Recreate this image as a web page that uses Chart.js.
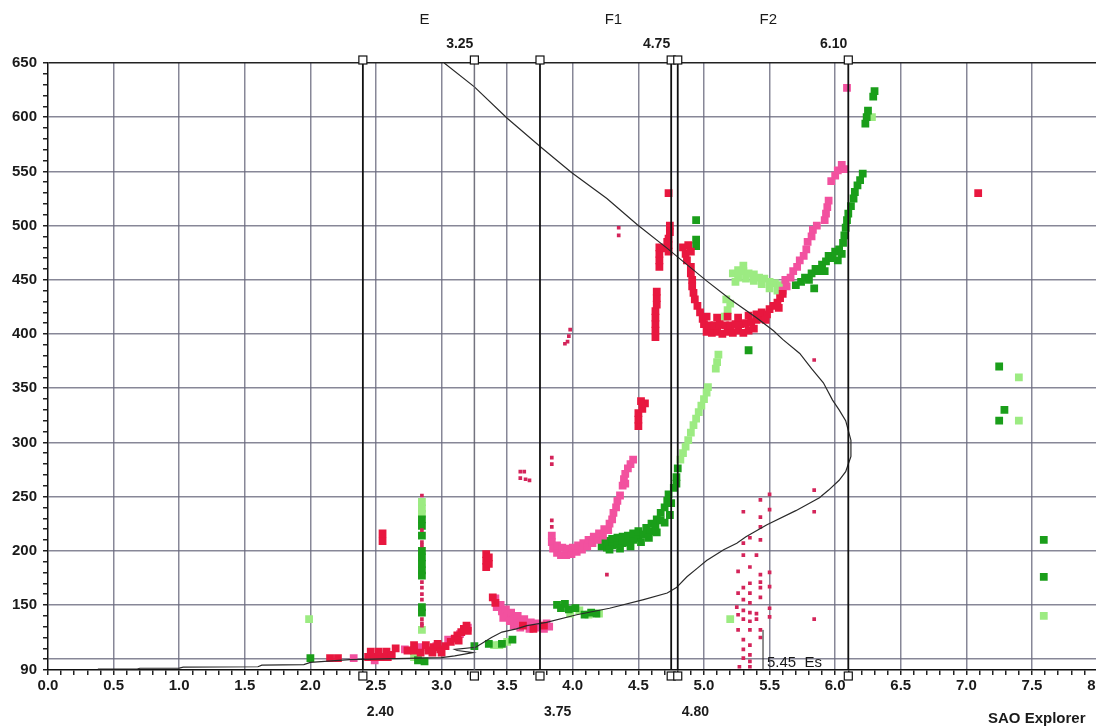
<!DOCTYPE html>
<html>
<head>
<meta charset="utf-8">
<title>Ionogram</title>
<script src="https://cdn.jsdelivr.net/npm/chart.js@4.4.1/dist/chart.umd.min.js"></script>
<style>
  html, body { margin: 0; padding: 0; background: #fff; overflow: hidden; }
  #wrap { position: relative; width: 1110px; height: 727px; }
</style>
</head>
<body>
<div id="wrap"><canvas id="iono" width="1110" height="727"></canvas></div>
<script>
// frequency (MHz), virtual height (km)
const oTrace = [
  [2.15,101],[2.21,101],
  [2.44,102],[2.49,102],[2.54,102],[2.59,102],[2.46,107],[2.52,107],[2.58,107],[2.62,104],[2.65,110],
  [2.74,108],[2.79,108],[2.79,113],[2.9,108],[2.94,111],[2.99,109],[2.97,114],[3.03,112],[2.88,113],
  [2.84,106],[2.93,106],[3.0,106],
  [3.07,116],[3.1,119],[3.12,122],[3.15,125],[3.17,128],[3.19,131],[3.2,126],[3.13,117],
  [2.55,209],[2.55,216],[3.34,185],[3.34,191],[3.34,197],[3.36,188],[3.36,194],
  [3.39,157],[3.41,152],[3.62,131],[3.7,128],[3.78,131],
  [4.5,315],[4.5,321],[4.5,327],[4.53,331],[4.55,336],[4.52,338],
  [4.63,397],[4.63,403],[4.63,409],[4.63,415],[4.63,421],[4.64,427],[4.64,433],[4.64,439],
  [4.66,462],[4.66,468],[4.66,474],[4.66,480],
  [4.73,476],[4.73,482],[4.73,488],[4.74,494],[4.74,500],[4.72,485],[4.7,479],[4.73,530],
  [4.84,480],[4.88,482],[4.86,474],[4.9,476],[4.87,468],[4.9,462],[4.9,456],[4.91,450],[4.91,444],
  [4.92,438],[4.93,432],[4.95,426],[4.97,420],[4.99,414],
  [5.02,402],[5.06,401],[5.1,402],[5.14,400],[5.18,402],[5.22,401],[5.26,403],[5.3,401],[5.34,403],[5.38,405],
  [5.0,409],[5.04,408],[5.08,408],[5.12,409],[5.16,408],[5.2,408],[5.24,409],[5.28,409],[5.32,410],[5.36,411],
  [5.02,416],[5.1,415],[5.18,416],[5.26,415],[5.34,417],
  [5.4,413],[5.44,414],[5.4,418],[5.44,420],[5.48,418],[5.5,423],[5.53,426],[5.56,429],[5.58,433],[5.6,437],
  [5.57,424],[5.47,413],
  [7.09,530]
];

const oTrace2 = [
  [2.33,101],[2.49,99],[2.72,109],[2.84,111],[2.96,112],[3.05,118],[3.14,123],[3.2,129],
  [3.41,156],[3.42,148],[3.45,150],[3.46,144],[3.49,146],[3.5,140],[3.53,143],[3.55,137],[3.58,140],
  [3.6,134],[3.63,137],[3.65,132],[3.68,134],[3.7,130],[3.73,133],[3.75,129],[3.78,128],[3.8,133],
  [3.82,130],[3.55,131],[3.6,129],[3.67,128],[3.47,138],[3.52,135],
  [3.84,214],[3.84,208],[3.85,202],[3.88,198],[3.88,205],[3.91,196],[3.92,203],[3.95,196],[3.96,202],
  [3.99,197],[4.0,203],[4.03,199],[4.04,205],[4.07,201],[4.08,207],[4.11,204],[4.12,210],[4.15,207],
  [4.16,213],[4.19,210],[4.2,216],[4.23,214],[4.24,220],[4.27,219],[4.28,225],[4.3,229],[4.31,235],
  [4.33,240],[4.34,246],[4.36,251],[4.38,260],[4.39,266],[4.4,271],[4.42,276],[4.44,280],[4.46,284],[4.4,262],
  [5.6,440],[5.63,444],[5.62,450],[5.66,452],[5.68,458],[5.71,462],[5.73,468],[5.76,472],[5.78,478],
  [5.79,485],[5.82,490],[5.83,496],[5.86,500],[5.92,505],[5.93,511],[5.94,517],[5.95,523],
  [5.97,541],[6.0,546],[6.02,551],[6.05,556],[6.07,552],[6.09,627]
];

const xTrace = [
  [2.0,101],[2.82,99],[2.87,98],
  [2.85,229],[2.85,223],[2.85,214],[2.85,200],[2.85,194],[2.85,188],[2.85,182],[2.85,177],[2.85,148],[2.85,143],
  [3.25,112],[3.36,114],[3.46,114],[3.54,118],
  [3.88,150],[3.91,147],[3.94,151],[3.97,146],[4.02,147],[4.09,141],[4.14,143],[4.18,142],
  [4.22,204],[4.22,210],[4.26,203],[4.26,209],[4.3,205],[4.3,211],[4.34,206],[4.34,212],[4.38,207],
  [4.38,213],[4.42,208],[4.42,214],[4.46,210],[4.46,216],[4.5,212],[4.5,218],[4.54,215],[4.56,221],
  [4.59,218],[4.6,225],[4.63,222],[4.64,229],[4.67,228],[4.67,235],[4.7,240],[4.72,246],[4.73,252],
  [4.75,244],[4.77,258],[4.79,268],[4.8,276],[4.79,262],
  [4.28,201],[4.36,202],[4.44,204],[4.52,208],[4.58,212],[4.64,217],[4.7,226],[4.74,233],
  [4.94,505],[4.94,487],[4.94,481],[5.34,385],
  [5.7,445],[5.74,448],[5.77,452],[5.8,450],[5.82,456],[5.85,460],[5.87,458],[5.9,464],[5.93,467],
  [5.95,472],[5.98,470],[6.0,476],[6.03,478],[6.05,474],[6.06,484],[6.07,491],[6.08,498],[6.09,505],
  [6.1,511],[6.12,518],[6.14,525],[6.15,531],[6.17,537],[6.19,542],[6.21,548],[6.23,594],[6.24,600],
  [6.25,606],[6.29,619],[6.3,624],[5.84,442],[5.92,458],[6.02,468],
  [7.25,370],[7.29,330],[7.25,320],[7.59,210],[7.59,176]
];

const xTrace2 = [
  [1.99,137],[2.79,102],[2.85,127],[2.85,245],[2.85,239],[2.85,234],
  [3.4,113],[3.44,113],[3.5,116],
  [3.98,142],[4.05,145],[4.12,141],[4.2,142],
  [4.82,284],[4.84,290],[4.86,296],[4.88,302],[4.9,309],[4.92,316],[4.94,322],[4.96,328],[4.98,334],
  [5.0,340],[5.02,346],[5.03,351],[5.09,368],[5.1,374],[5.11,381],[5.16,416],[5.18,422],[5.2,428],[5.17,432],
  [5.22,456],[5.26,459],[5.3,458],[5.34,456],[5.38,455],[5.42,452],[5.46,451],[5.5,448],[5.54,447],
  [5.58,445],[5.62,445],[5.26,452],[5.32,451],[5.38,449],[5.44,446],[5.5,442],[5.56,440],[5.3,463],[5.24,448],
  [6.28,600],[7.4,360],[7.4,320],[7.59,140],[5.2,137]
];

const echoDots = [
  [2.85,251],[2.85,219],[2.85,208],[2.85,205],[2.85,171],[2.85,166],[2.85,160],[2.85,155],[2.85,137],[2.85,133],[2.85,131],
  [3.6,273],[3.63,273],[3.6,267],[3.64,266],[3.67,265],
  [3.84,286],[3.84,280],[3.84,222],[3.84,228],
  [3.94,391],[3.96,393],[3.97,398],[3.98,404],
  [4.35,498],[4.35,491],[4.26,178],
  [5.84,376],[5.84,256],[5.84,236],[5.84,137],
  [5.3,236],[5.43,247],[5.5,252],[5.5,238],[5.43,231],[5.43,222],[5.43,210],[5.35,212],[5.3,207],
  [5.3,196],[5.4,196],[5.35,185],[5.5,180],[5.43,178],[5.43,171],[5.35,170],[5.26,181],[5.3,166],
  [5.26,161],[5.35,161],[5.43,166],[5.5,167],[5.43,157],[5.3,155],[5.35,152],[5.25,148],[5.3,145],
  [5.35,143],[5.4,142],[5.5,147],[5.5,139],[5.26,141],[5.3,137],[5.4,137],[5.35,135],[5.26,127],
  [5.35,127],[5.43,127],[5.43,120],[5.3,118],[5.35,113],[5.3,109],[5.35,104],[5.3,101],[5.27,93],
  [5.35,98],[5.35,93]
];

// true-height electron density profile
const profile = [
  [0.38,90.9],[0.68,90.9],[0.7,91.6],[1.0,91.8],[1.03,92.7],[1.6,93],[1.63,94.5],[1.95,95],[2.0,97],
  [2.3,99.5],[2.65,100.5],[3.0,101.5],[3.1,103],[3.24,106],[3.12,108],[3.1,109],[3.26,111],[3.3,114],
  [3.38,120],[3.46,125],[3.57,128],[3.65,131],[3.8,134],[4.03,141],[4.28,147],[4.54,155],[4.72,161],
  [4.79,166],[4.87,176],[4.95,184],[5.02,191],[5.15,201],[5.25,207],[5.32,213],[5.48,224],[5.7,237],
  [5.88,249],[5.95,256],[6.03,265],[6.08,273],[6.12,287],[6.12,302],[6.08,320],[6.03,330],[5.98,339],
  [5.91,355],[5.82,368],[5.73,382],[5.6,395],[5.53,403],[5.4,415],[5.2,432],[5.02,449],[4.72,479],
  [4.49,501],[4.26,525],[3.99,549],[3.76,572],[3.5,599],[3.25,628],[3.02,650]
];

// scaled markers
const markerFreqs = [2.40, 3.75, 4.75, 4.80, 6.10];
const greyMarker = 3.25;
const topMarkerLabels = [[3.25, '3.25'], [4.75, '4.75'], [6.10, '6.10']];
const bottomMarkerLabels = [[2.40, '2.40'], [3.75, '3.75'], [4.80, '4.80']];
const layerNames = [[2.87, 'E'], [4.31, 'F1'], [5.49, 'F2']];
const esFreq = 5.45;
const esTop = 127;

const xTickValues = [];
for (let i = 0; i <= 80; i++) xTickValues.push(i / 10);
const yTickValues = [];
for (let h = 90; h <= 650; h += 10) yTickValues.push(h);

const FONT = '"Liberation Sans", Arial, sans-serif';
const gridGrey = 'rgba(105,105,125,0.8)';

const toXY = arr => arr.map(p => ({ x: p[0], y: p[1] }));

const datasets = [];

markerFreqs.forEach(f => {
  datasets.push({
    data: [{ x: f, y: 90 }, { x: f, y: 650 }],
    showLine: true, borderColor: '#111', borderWidth: 1.8, pointRadius: 0
  });
});
datasets.push({
  data: [{ x: greyMarker, y: 90 }, { x: greyMarker, y: 650 }],
  showLine: true, borderColor: 'rgba(90,90,105,0.85)', borderWidth: 1.5, pointRadius: 0
});
datasets.push({
  data: [{ x: esFreq, y: 90 }, { x: esFreq, y: esTop }],
  showLine: true, borderColor: '#222', borderWidth: 1, pointRadius: 0
});
datasets.push({
  data: toXY(profile),
  showLine: true, borderColor: '#2a2a2a', borderWidth: 1.2, pointRadius: 0, tension: 0
});

function traceSet(points, color, radius) {
  return {
    data: toXY(points),
    pointStyle: 'rect',
    pointRadius: radius,
    pointBorderWidth: 0,
    pointBackgroundColor: color,
    backgroundColor: color,
    borderColor: color
  };
}

datasets.push(traceSet(echoDots, '#d4245a', 2.6));
datasets.push(traceSet(oTrace, '#e8173f', 5.5));
datasets.push(traceSet(oTrace2, '#f2519f', 5.5));
datasets.push(traceSet(xTrace, '#1a9e1a', 5.5));
datasets.push(traceSet(xTrace2, '#9ceb82', 5.5));

const overlay = {
  id: 'overlay',
  afterDatasetsDraw(chart) {
    const { ctx, scales: { x, y } } = chart;
    const top = y.getPixelForValue(650);
    const bottom = y.getPixelForValue(90);
    ctx.save();

    // marker squares on top and bottom axes
    ctx.lineWidth = 1.2;
    ctx.strokeStyle = '#111';
    ctx.fillStyle = '#fff';
    [...markerFreqs, greyMarker].forEach(f => {
      const px = x.getPixelForValue(f);
      ctx.fillRect(px - 4, top - 7, 8, 8);
      ctx.strokeRect(px - 4, top - 7, 8, 8);
      ctx.fillRect(px - 4, bottom + 2, 8, 8);
      ctx.strokeRect(px - 4, bottom + 2, 8, 8);
    });

    ctx.fillStyle = '#1a1a1a';
    ctx.textBaseline = 'middle';

    ctx.font = '15px ' + FONT;
    ctx.textAlign = 'center';
    layerNames.forEach(([f, t]) => ctx.fillText(t, x.getPixelForValue(f), 20));

    ctx.font = 'bold 14px ' + FONT;
    ctx.textAlign = 'right';
    topMarkerLabels.forEach(([f, t]) => ctx.fillText(t, x.getPixelForValue(f) - 1, 44));

    ctx.textAlign = 'left';
    bottomMarkerLabels.forEach(([f, t]) => ctx.fillText(t, x.getPixelForValue(f) + 4, 712));

    ctx.font = '15px ' + FONT;
    ctx.fillText('5.45  Es', x.getPixelForValue(esFreq) + 4, bottom - 7);

    ctx.font = 'bold 15px ' + FONT;
    ctx.fillText('SAO Explorer', 988, 719);
    ctx.restore();
  }
};

new Chart(document.getElementById('iono'), {
  type: 'scatter',
  data: { datasets },
  options: {
    responsive: false,
    devicePixelRatio: 1,
    animation: false,
    layout: { padding: { top: 63, right: 2, left: 0, bottom: 0 } },
    plugins: { legend: { display: false }, tooltip: { enabled: false } },
    scales: {
      x: {
        type: 'linear', min: 0, max: 8,
        afterBuildTicks: s => { s.ticks = xTickValues.map(v => ({ value: v })); },
        afterFit: s => { s.height = 57; },
        border: { display: true, color: '#111', width: 1.5 },
        grid: {
          color: c => (Math.round(c.tick.value * 10) % 5 === 0 && c.tick.value > 0) ? gridGrey : 'transparent',
          lineWidth: 1.5,
          tickColor: '#222',
          tickLength: 5
        },
        ticks: {
          autoSkip: false, maxRotation: 0, padding: 2,
          color: '#1a1a1a',
          font: { family: FONT, size: 15, weight: 'bold' },
          callback: v => Math.round(v * 10) % 5 === 0 ? v.toFixed(1) : ''
        }
      },
      y: {
        type: 'linear', min: 90, max: 650,
        afterBuildTicks: s => { s.ticks = yTickValues.map(v => ({ value: v })); },
        afterFit: s => { s.width = 48; },
        border: { display: true, color: '#111', width: 1.5 },
        grid: {
          color: c => {
            const v = c.tick.value;
            if (v === 650) return '#222';
            if (v === 90) return 'transparent';
            return (v % 50 === 0 || v === 100) ? gridGrey : 'transparent';
          },
          lineWidth: 1.5,
          tickColor: '#222',
          tickLength: 5
        },
        ticks: {
          autoSkip: false, padding: 6,
          color: '#1a1a1a',
          font: { family: FONT, size: 15, weight: 'bold' },
          callback: v => (v === 90 || (v % 50 === 0 && v >= 150)) ? String(v) : ''
        }
      }
    }
  },
  plugins: [overlay]
});
</script>
</body>
</html>
